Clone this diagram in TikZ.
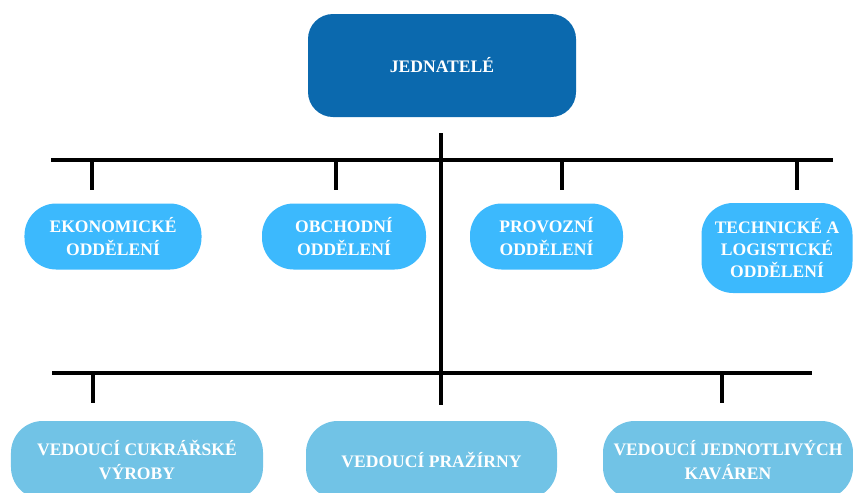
\documentclass[tikz,border=0pt]{standalone}
\usepackage{fontspec}
\setmainfont{Liberation Serif}
\usepackage{xcolor}
\usetikzlibrary{positioning, calc}

\definecolor{topblue}{HTML}{0B69AE}
\definecolor{deptblue}{HTML}{3CB9FD}
\definecolor{leadblue}{HTML}{71C3E6}

\begin{document}
\begin{tikzpicture}[
    x=0.03cm, y=-0.03cm,
    boss/.style={rounded corners=0.75cm, fill=topblue, text=white, minimum width=8.04cm, minimum height=3.09cm, font=\bfseries\fontsize{15}{19}\selectfont},
    dept/.style={rounded corners=0.95cm, fill=deptblue, text=white, align=center, minimum height=1.98cm, font=\bfseries\fontsize{15}{19}\selectfont},
    lead/.style={rounded corners=0.95cm, fill=leadblue, text=white, align=center, minimum height=2.34cm, font=\bfseries\fontsize{15}{20.5}\selectfont},
    bar/.style={line width=2.6pt}
]
\useasboundingbox (0,0) rectangle (853,492);

\node[boss] (jed) at (442,65.5) {JEDNATELÉ};

% oddeleni
\node[dept, minimum width=5.31cm] (eko) at (113,236.5) {EKONOMICKÉ\\ODDĚLENÍ};
\node[dept, minimum width=4.92cm] (obch) at (344,236.5) {OBCHODNÍ\\ODDĚLENÍ};
\node[dept, minimum width=4.59cm] (prov) at (546.5,236.5) {PROVOZNÍ\\ODDĚLENÍ};
\node[dept, minimum width=4.53cm, minimum height=2.7cm] (tech) at (777,248) {TECHNICKÉ A\\LOGISTICKÉ\\ODDĚLENÍ};

% vedouci
\node[lead, minimum width=7.56cm] (cuk) at (137,460) {VEDOUCÍ CUKRÁŘSKÉ\\VÝROBY};
\node[lead, minimum width=7.53cm] (praz) at (431.5,460) {VEDOUCÍ PRAŽÍRNY};
\node[lead, minimum width=7.5cm] (kav) at (728,460) {VEDOUCÍ JEDNOTLIVÝCH\\KAVÁREN};

% linky
\coordinate (trunkTop) at (441,133);
\coordinate (trunkEnd) at (441,405);
\coordinate (barAL) at (51,160);
\coordinate (barAR) at (833,160);
\coordinate (barBL) at (52,373);
\coordinate (barBR) at (812,373);
\coordinate (ekoT) at (92,190);
\coordinate (obchT) at (336,190);
\coordinate (provT) at (562,190);
\coordinate (techT) at (797,190);
\coordinate (cukT) at (93,403);
\coordinate (kavT) at (722,403);

\draw[bar] (trunkTop) -- (trunkEnd);
\draw[bar] (barAL) -- (barAR);
\draw[bar] (barBL) -- (barBR);
\foreach \t in {ekoT, obchT, provT, techT}
    \draw[bar] (\t |- barAL) -- (\t);
\foreach \t in {cukT, kavT}
    \draw[bar] (\t |- barBL) -- (\t);
\end{tikzpicture}
\end{document}
